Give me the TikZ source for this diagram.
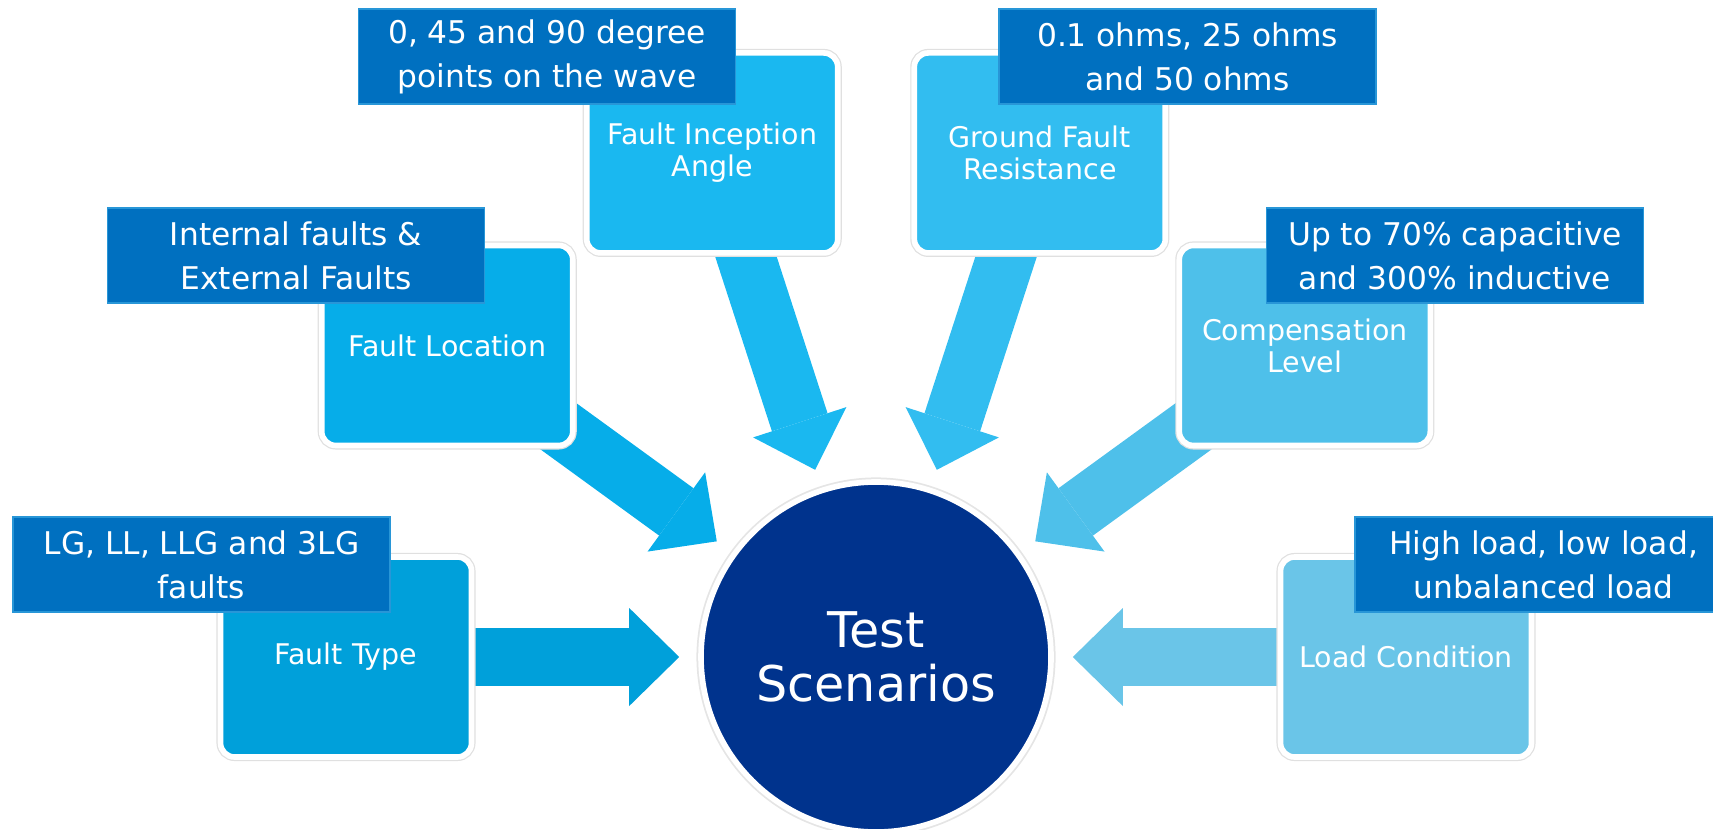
\documentclass[tikz,border=0pt]{standalone}
\usepackage{fontspec}
\setsansfont{DejaVu Sans}
\usetikzlibrary{positioning, arrows.meta, calc}

\begin{document}
\begin{tikzpicture}[
    font=\sffamily,
    % --- Styles ---
    hub/.style={circle, fill=hubNavy, draw=white, line width=1.6pt, preaction={draw=black!10, line width=2.6pt},
        minimum size=3.5cm, inner sep=0pt, align=center, text=white, font=\sffamily\fontsize{14}{15.4}\selectfont},
    factor/.style={minimum width=2.51cm, minimum height=2.0cm, rounded corners=0.14cm, align=center, text=white,
        draw=white, line width=1.6pt, preaction={draw=black!12, line width=2.3pt},
        font=\sffamily\fontsize{8.1}{9.1}\selectfont},
    note/.style={fill=noteBlue, draw=noteEdge, line width=0.5pt, minimum width=3.77cm, minimum height=0.95cm,
        inner sep=0pt, align=center, text=white, font=\sffamily\fontsize{8.9}{12.5}\selectfont},
    fat_arrow/.style={line width=0.585cm, shorten >=0.19cm, -{Triangle[width=0.98cm, length=0.5cm, line width=0pt]}}
]

    % --- Colors ---
    \definecolor{hubNavy}{RGB}{0,51,141}
    \definecolor{noteBlue}{RGB}{0,112,192}
    \definecolor{noteEdge}{RGB}{40,150,215}
    \definecolor{cType}{RGB}{0,160,218}
    \definecolor{cLoc}{RGB}{6,173,233}
    \definecolor{cInc}{RGB}{26,184,240}
    \definecolor{cGnd}{RGB}{50,189,240}
    \definecolor{cComp}{RGB}{78,192,234}
    \definecolor{cLoad}{RGB}{106,197,232}

    \useasboundingbox (0,0) rectangle (17.13,-8.29);

    % ==========================
    % 1. CENTRE
    % ==========================
    \node[hub] (ts) at (8.76,-6.57) {Test\\Scenarios};

    % ==========================
    % 2. BLOCK ARROWS (under the boxes)
    % ==========================
    \foreach \name/\ang/\col in {type/180/cType, loc/144/cLoc, inc/108/cInc, gnd/72/cGnd, comp/36/cComp, load/0/cLoad} {
        \coordinate (\name-tail) at ($(ts)+(\ang:4.6)$);
        \draw[fat_arrow, \col] (\name-tail) -- (ts);
    }

    % ==========================
    % 3. FACTOR BOXES
    % ==========================
    \node[factor, fill=cType] (type) at ($(ts)+(180:5.3)$) {Fault Type};
    \node[factor, fill=cLoc]  (loc)  at ($(ts)+(144:5.3)$) {Fault Location};
    \node[factor, fill=cInc]  (inc)  at ($(ts)+(108:5.3)$) {Fault Inception\\Angle};
    \node[factor, fill=cGnd]  (gnd)  at ($(ts)+(72:5.3)$)  {Ground Fault\\Resistance};
    \node[factor, fill=cComp] (comp) at ($(ts)+(36:5.3)$)  {Compensation\\Level};
    \node[factor, fill=cLoad] (load) at ($(ts)+(0:5.3)$)   {Load Condition};

    % ==========================
    % 4. NOTES
    % ==========================
    \node[note] (type-note) at (2.015,-5.645) {LG, LL, LLG and 3LG\\faults};
    \node[note] (loc-note)  at (2.96,-2.555)  {Internal faults \&\\External Faults};
    \node[note] (inc-note)  at (5.47,-0.565)  {0, 45 and 90 degree\\points on the wave};
    \node[note] (gnd-note)  at (11.875,-0.565) {0.1 ohms, 25 ohms\\and 50 ohms};
    \node[note] (comp-note) at (14.55,-2.555) {Up to 70\% capacitive\\and 300\% inductive};
    \node[note] (load-note) at (15.435,-5.645) {High load, low load,\\unbalanced load};

\end{tikzpicture}
\end{document}
